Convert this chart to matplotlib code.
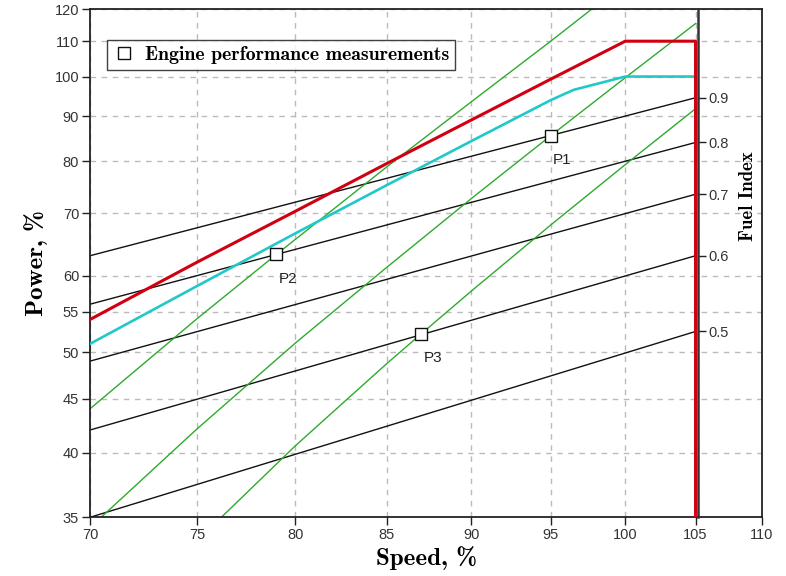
import numpy as np
import matplotlib
matplotlib.use("Agg")
import matplotlib.pyplot as plt
from matplotlib.ticker import NullLocator

plt.rcParams["font.family"] = ["Liberation Sans", "DejaVu Sans"]
SERIF_BOLD = ["cmb10", "DejaVu Serif"]

# values: speed %, power %
red_speed = [70, 75, 80, 85, 90, 95, 100, 105, 105]
red_power = [54, 62, 70.4, 79.5, 89.1, 99.3, 110, 110, 35]

cyan_speed = [70, 75, 80, 85, 90, 95, 96.5, 100, 105]
cyan_power = [51, 58.5, 66.6, 75.2, 84.3, 93.9, 96.5, 100, 100]

# propeller curves (green)
prop_a_speed = [70, 75, 79, 85, 90, 95, 97.7]
prop_a_power = [44, 54.1, 63.2, 78.8, 93.5, 110, 120]
prop_b_speed = [70.5, 75, 80, 85, 90, 95, 100, 105]
prop_b_power = [35, 42.1, 51.1, 61.2, 72.7, 85.5, 99.7, 115.4]
prop_c_speed = [76.2, 80, 85, 87, 90, 95, 100, 105]
prop_c_power = [35, 40.6, 48.7, 52.2, 57.8, 68, 79.3, 91.8]

# fuel index lines (black), from 70 % to 105 % speed
fuel_index = [0.5, 0.6, 0.7, 0.8, 0.9]
fuel_start = [35, 42, 49, 56, 63]
fuel_end = [52.5, 63, 73.5, 84, 94.5]

meas_name = ["P1", "P2", "P3"]
meas_speed = [95, 79, 87]
meas_power = [85.5, 63.2, 52.2]

x_ticks = [70, 75, 80, 85, 90, 95, 100, 105, 110]
y_ticks = [35, 40, 45, 50, 55, 60, 70, 80, 90, 100, 110, 120]


def fwd_x(v):
    return np.log(np.clip(np.asarray(v, dtype=float) - 15, 1e-6, None))


def inv_x(v):
    return np.exp(v) + 15


def fwd_y(v):
    return np.log(np.clip(np.asarray(v, dtype=float) - 12, 1e-6, None))


def inv_y(v):
    return np.exp(v) + 12


fig = plt.figure(figsize=(7.86, 5.76), dpi=100)
ax = fig.add_axes([0.1145, 0.1019, 0.855, 0.882])
ax.set_xscale("function", functions=(fwd_x, inv_x))
ax.set_yscale("function", functions=(fwd_y, inv_y))
ax.set_xlim(70, 110)
ax.set_ylim(35, 120)

for s, e in zip(fuel_start, fuel_end):
    ax.plot([70, 105], [s, e], color="#111111", lw=1.0, zorder=2)

for sp, pw in [(prop_a_speed, prop_a_power), (prop_b_speed, prop_b_power),
               (prop_c_speed, prop_c_power)]:
    ax.plot(sp, pw, color="#2eaa2e", lw=1.0, zorder=2)

ax.plot(cyan_speed, cyan_power, color="#22c8c8", lw=1.9, zorder=3)
ax.plot(red_speed, red_power, color="#d00010", lw=2.2, zorder=3)

ax.plot(meas_speed, meas_power, ls="none", marker="s", ms=9, mfc="white",
        mec="#111111", mew=1.0, zorder=5,
        label="Engine performance measurements")
for name, sx, py in zip(meas_name, meas_speed, meas_power):
    ax.annotate(name, (sx, py), xytext=(8.5, -17.5), textcoords="offset points",
                ha="center", va="center", fontsize=11, color="#222222")

ax.set_xticks(x_ticks, labels=[str(v) for v in x_ticks])
ax.set_yticks(y_ticks, labels=[str(v) for v in y_ticks])
ax.xaxis.set_minor_locator(NullLocator())
ax.yaxis.set_minor_locator(NullLocator())
ax.tick_params(direction="out", length=5.8, width=1.0, labelsize=10.5,
               labelcolor="#333333", color="#222222", pad=2)
ax.grid(True, ls=(0, (4, 4)), color="#bbbbbb", lw=1.0)
ax.set_axisbelow(True)
for sp in ax.spines.values():
    sp.set_color("#222222")
    sp.set_linewidth(1.3)

ax.set_xlabel("Speed, %", fontsize=18, family=SERIF_BOLD, labelpad=3)
ax.set_ylabel("Power, %", fontsize=18, family=SERIF_BOLD, labelpad=5)

leg = ax.legend(loc="upper left", bbox_to_anchor=(0.025, 0.94), borderaxespad=0,
                fancybox=False, prop={"family": SERIF_BOLD, "size": 14.3},
                handletextpad=0.5, borderpad=0.3, handlelength=1.1)
leg.get_frame().set_edgecolor("#111111")
leg.get_frame().set_linewidth(1.0)

# fuel index axis at 105 % speed
ax2 = ax.twinx()
ax2.set_yscale("function", functions=(fwd_y, inv_y))
ax2.set_ylim(35, 120)
for s in ["left", "top", "bottom"]:
    ax2.spines[s].set_visible(False)
ax2.spines["right"].set_position(("data", 105.18))
ax2.spines["right"].set_color("#333333")
ax2.spines["right"].set_linewidth(1.8)
ax2.set_yticks(fuel_end, labels=[f"{f:.1f}" for f in fuel_index])
ax2.yaxis.set_minor_locator(NullLocator())
ax2.tick_params(axis="y", direction="out", length=5.8, width=1.0, pad=2,
                labelsize=10.5, labelcolor="#333333", color="#222222")
ax.text(0.979, 0.632, "Fuel Index", rotation=90, fontsize=13.5,
        family=SERIF_BOLD, transform=ax.transAxes, ha="center", va="center")

fig.savefig("out.png", dpi=100)
